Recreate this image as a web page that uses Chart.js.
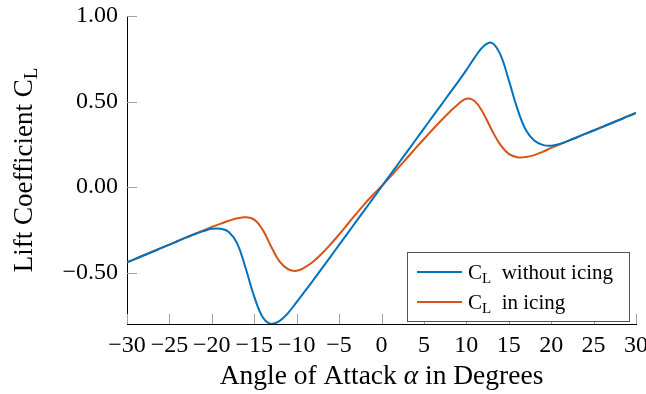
<!DOCTYPE html>
<html>
<head>
<meta charset="utf-8">
<script src="https://cdn.jsdelivr.net/npm/chart.js@4.4.0/dist/chart.umd.min.js"></script>
<style>
    html, body { margin: 0; padding: 0; background: #fff; }
</style>
</head>
<body>
<canvas id="liftChart" width="646" height="394"></canvas>
<script>
// angle of attack, degrees
const angles = [
    -30, -29, -28, -27, -26, -25, -24, -23, -22, -21,
    -20, -19, -18, -17, -16, -15, -14, -13, -12, -11,
    -10, -9, -8, -7, -6, -5, -4, -3, -2, -1,
    0, 1, 2, 3, 4, 5, 6, 7, 8, 9,
    10, 11, 12, 13, 14, 15, 16, 17, 18, 19,
    20, 21, 22, 23, 24, 25, 26, 27, 28, 29, 30
];
const clClean = [
    -0.440, -0.419, -0.398, -0.378, -0.357, -0.336, -0.315, -0.294, -0.274, -0.257,
    -0.244, -0.243, -0.262, -0.330, -0.476, -0.640, -0.760, -0.800, -0.782, -0.735,
    -0.672, -0.607, -0.541, -0.474, -0.406, -0.338, -0.270, -0.202, -0.134, -0.066,
    0.002, 0.070, 0.138, 0.206, 0.274, 0.342, 0.410, 0.478, 0.546, 0.614,
    0.684, 0.758, 0.822, 0.843, 0.776, 0.626, 0.460, 0.335, 0.272, 0.247,
    0.242, 0.252, 0.270, 0.290, 0.311, 0.331, 0.351, 0.372, 0.392, 0.413, 0.433
];
const clIcing = [
    -0.440, -0.419, -0.398, -0.378, -0.357, -0.336, -0.315, -0.294, -0.274, -0.253,
    -0.232, -0.215, -0.197, -0.182, -0.176, -0.190, -0.250, -0.348, -0.436, -0.480,
    -0.489, -0.468, -0.433, -0.387, -0.334, -0.277, -0.217, -0.157, -0.099, -0.045,
    0.005, 0.058, 0.114, 0.170, 0.226, 0.281, 0.335, 0.388, 0.438, 0.483,
    0.517, 0.502, 0.432, 0.334, 0.248, 0.194, 0.175, 0.176, 0.187, 0.206,
    0.229, 0.250, 0.270, 0.290, 0.311, 0.331, 0.352, 0.372, 0.392, 0.413, 0.433
];
const xTicks = [-30, -25, -20, -15, -10, -5, 0, 5, 10, 15, 20, 25, 30];
const yTicks = [-0.5, 0, 0.5, 1];
const seriesNames = ['without icing', 'in icing'];

const BLUE = '#0072bd';
const ORANGE = '#d95319';
const SERIF = '"Liberation Serif", "DejaVu Serif", serif';

const minus = s => s.replace('-', '\u2212');

// draws text runs: [text, size, italic, dy]
function drawRuns(ctx, runs, x, y) {
    let cx = x;
    runs.forEach(([t, size, italic, dy]) => {
        ctx.font = (italic ? 'italic ' : '') + size + 'px ' + SERIF;
        ctx.fillText(t, cx, y + (dy || 0));
        cx += ctx.measureText(t).width;
    });
    return cx - x;
}
function runsWidth(ctx, runs) {
    let w = 0;
    runs.forEach(([t, size, italic]) => {
        ctx.font = (italic ? 'italic ' : '') + size + 'px ' + SERIF;
        w += ctx.measureText(t).width;
    });
    return w;
}

const decor = {
    id: 'decor',
    beforeDatasetsDraw(chart) {
        const { ctx, chartArea: a, scales: { x, y } } = chart;
        ctx.save();
        ctx.strokeStyle = '#a0a0a0';
        ctx.lineWidth = 1;
        ctx.beginPath();
        xTicks.forEach(v => {
            const px = Math.round(x.getPixelForValue(v)) + 0.5;
            ctx.moveTo(px, a.bottom);
            ctx.lineTo(px, a.bottom - 10);
        });
        yTicks.forEach(v => {
            const py = Math.round(y.getPixelForValue(v)) + 0.5;
            ctx.moveTo(a.left, py);
            ctx.lineTo(a.left + 10, py);
        });
        ctx.stroke();
        ctx.restore();
    },
    afterDraw(chart) {
        const { ctx, chartArea: a } = chart;
        ctx.save();
        ctx.fillStyle = '#000';
        ctx.textBaseline = 'alphabetic';
        ctx.textAlign = 'left';

        // x title
        const xRuns = [['Angle of Attack ', 27.5], ['\u03b1', 27.5, true], [' in Degrees', 27.5]];
        const xw = runsWidth(ctx, xRuns);
        drawRuns(ctx, xRuns, (a.left + a.right) / 2 - xw / 2, 384);

        // y title
        const yRuns = [['Lift Coefficient C', 27], ['L', 19, false, 5]];
        const yw = runsWidth(ctx, yRuns);
        ctx.save();
        ctx.translate(32, (a.top + a.bottom) / 2);
        ctx.rotate(-Math.PI / 2);
        drawRuns(ctx, yRuns, -yw / 2, 0);
        ctx.restore();

        // legend
        const box = { l: 407.5, t: 252.5, r: 629.5, b: 321.5 };
        ctx.fillStyle = '#fff';
        ctx.fillRect(box.l, box.t, box.r - box.l, box.b - box.t);
        ctx.strokeStyle = '#555';
        ctx.lineWidth = 1;
        ctx.strokeRect(box.l, box.t, box.r - box.l, box.b - box.t);
        [BLUE, ORANGE].forEach((c, i) => {
            const ly = 272 + i * 30;
            ctx.strokeStyle = c;
            ctx.lineWidth = 2;
            ctx.beginPath();
            ctx.moveTo(417, ly);
            ctx.lineTo(462, ly);
            ctx.stroke();
            ctx.fillStyle = '#000';
            drawRuns(ctx, [['C', 21], ['L', 15, false, 4], ['  ' + seriesNames[i], 21]], 468, ly + 7);
        });
        ctx.restore();
    }
};

const ctx = document.getElementById('liftChart').getContext('2d');

new Chart(ctx, {
    type: 'line',
    data: {
        datasets: [
            {
                label: 'CL ' + seriesNames[0],
                data: angles.map((a, i) => ({ x: a, y: clClean[i] })),
                borderColor: BLUE,
                borderWidth: 2,
                pointRadius: 0,
                tension: 0.4,
                fill: false
            },
            {
                label: 'CL ' + seriesNames[1],
                data: angles.map((a, i) => ({ x: a, y: clIcing[i] })),
                borderColor: ORANGE,
                borderWidth: 2,
                pointRadius: 0,
                tension: 0.4,
                fill: false
            }
        ]
    },
    options: {
        responsive: false,
        animation: false,
        layout: { padding: { top: 16, right: 10, left: 0, bottom: 0 } },
        plugins: { legend: { display: false }, tooltip: { enabled: false } },
        scales: {
            x: {
                type: 'linear',
                min: -30,
                max: 30,
                afterBuildTicks: s => { s.ticks = xTicks.map(v => ({ value: v })); },
                afterFit: s => { s.height = 70; s.paddingLeft = 0; s.paddingRight = 0; },
                grid: { display: true, drawOnChartArea: false, drawTicks: false },
                border: { display: true, color: '#000', width: 1 },
                ticks: {
                    color: '#000',
                    padding: 7,
                    maxRotation: 0,
                    autoSkip: false,
                    font: { family: SERIF, size: 24 },
                    callback: v => minus(String(v))
                }
            },
            y: {
                min: -0.8,
                max: 1,
                afterBuildTicks: s => { s.ticks = yTicks.map(v => ({ value: v })); },
                afterFit: s => { s.width = 127; s.paddingTop = 0; s.paddingBottom = 0; },
                grid: { display: true, drawOnChartArea: false, drawTicks: false },
                border: { display: true, color: '#000', width: 1 },
                ticks: {
                    color: '#000',
                    padding: 9,
                    autoSkip: false,
                    font: { family: SERIF, size: 24 },
                    callback: v => minus(Number(v).toFixed(2))
                }
            }
        }
    },
    plugins: [decor]
});
</script>
</body>
</html>
